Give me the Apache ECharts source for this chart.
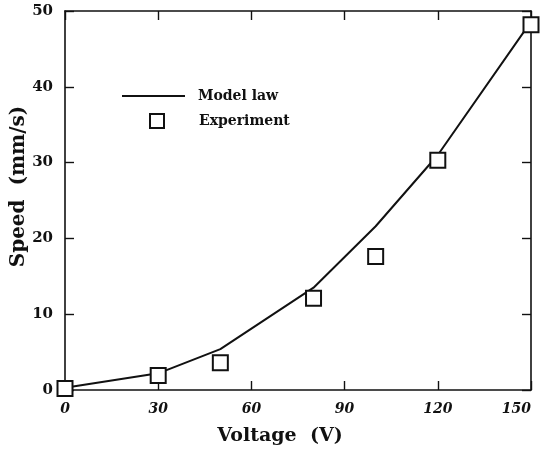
<!DOCTYPE html>
<html>
<head>
<meta charset="utf-8">
<script src="https://cdn.jsdelivr.net/npm/echarts@6/dist/echarts.min.js"></script>
<style>
  html, body { margin: 0; padding: 0; background: #fff; }
  #chart { width: 541px; height: 453px; }
</style>
</head>
<body>
<div id="chart"></div>
<script>
// voltage (V) vs speed (mm/s)
const modelVoltage = [0, 30, 50, 80, 100, 120, 150]
const modelSpeed = [0.3, 2.2, 5.4, 13.5, 21.6, 31.0, 48.6]
const expVoltage = [0, 30, 50, 80, 100, 120, 150]
const expSpeed = [0.2, 1.9, 3.6, 12.1, 17.6, 30.3, 48.2]

const font = 'DejaVu Serif'
const ink = '#111'

function pairs (xs, ys) {
  return xs.map((x, i) => [x, ys[i]])
}

const xBase = {
  type: 'value',
  min: 0,
  max: 150,
  interval: 30,
  splitLine: {show: false},
  axisLine: {show: true, onZero: false, lineStyle: {color: ink, width: 1.6}},
  axisTick: {show: true, inside: true, length: 9, lineStyle: {color: ink, width: 1.4}}
}
const yBase = {
  type: 'value',
  min: 0,
  max: 50,
  interval: 10,
  splitLine: {show: false},
  axisLine: {show: true, onZero: false, lineStyle: {color: ink, width: 1.6}},
  axisTick: {show: true, inside: true, length: 9, lineStyle: {color: ink, width: 1.4}}
}

const chart = echarts.init(document.getElementById('chart'))
chart.setOption({
  animation: false,
  backgroundColor: '#fff',
  grid: {left: 65, top: 11, right: 10, bottom: 63, outerBoundsMode: 'none', containLabel: false},
  legend: [{
    left: 122,
    top: 89,
    padding: 0,
    itemWidth: 63,
    itemHeight: 2,
    data: [{name: 'Model law', icon: 'rect'}],
    textStyle: {fontFamily: font, fontWeight: 'bold', fontSize: 14, color: ink, padding: [0, 0, 0, 8]}
  }, {
    left: 149,
    top: 113,
    padding: 0,
    itemWidth: 14,
    itemHeight: 14,
    data: ['Experiment'],
    textStyle: {fontFamily: font, fontWeight: 'bold', fontSize: 14, color: ink, padding: [0, 0, 0, 30]}
  }],
  xAxis: [Object.assign({}, xBase, {
    position: 'bottom',
    name: 'Voltage  (V)',
    nameLocation: 'middle',
    nameGap: 37,
    nameMoveOverlap: false,
    nameTextStyle: {fontFamily: font, fontWeight: 'bold', fontSize: 19, color: ink, padding: [0, 36, 0, 0]},
    axisLabel: {margin: 12, alignMaxLabel: 'right', fontFamily: font, fontWeight: 'bold', fontStyle: 'italic', fontSize: 14, color: ink}
  }), Object.assign({}, xBase, {
    position: 'top',
    axisLabel: {show: false}
  })],
  yAxis: [Object.assign({}, yBase, {
    position: 'left',
    name: 'Speed  (mm/s)',
    nameLocation: 'middle',
    nameGap: 36,
    nameMoveOverlap: false,
    nameTextStyle: {fontFamily: font, fontWeight: 'bold', fontSize: 20, color: ink, padding: [0, 0, 0, 28]},
    axisLabel: {margin: 12, fontFamily: font, fontWeight: 'bold', fontSize: 15, color: ink}
  }), Object.assign({}, yBase, {
    position: 'right',
    axisLabel: {show: false}
  })],
  series: [{
    name: 'Model law',
    type: 'line',
    data: pairs(modelVoltage, modelSpeed),
    showSymbol: false,
    symbol: 'none',
    clip: false,
    lineStyle: {color: ink, width: 2},
    itemStyle: {color: ink},
    z: 3
  }, {
    name: 'Experiment',
    type: 'scatter',
    data: pairs(expVoltage, expSpeed),
    symbol: 'emptyRect',
    symbolSize: 15,
    clip: false,
    itemStyle: {color: ink, borderWidth: 1.4, opacity: 1},
    z: 4
  }]
})
</script>
</body>
</html>
